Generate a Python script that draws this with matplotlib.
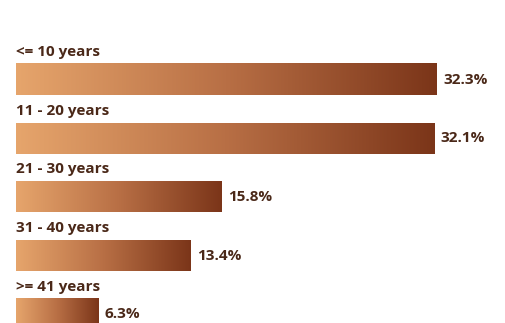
import numpy as np
import matplotlib
matplotlib.use("Agg")
import matplotlib.pyplot as plt
from matplotlib.colors import LinearSegmentedColormap

categories = ["<= 10 years", "11 - 20 years", "21 - 30 years", "31 - 40 years", ">= 41 years"]
values = [32.3, 32.1, 15.8, 13.4, 6.3]
labels = ["32.3%", "32.1%", "15.8%", "13.4%", "6.3%"]

text_color = "#4a2818"
bar_cmap = LinearSegmentedColormap.from_list("copper_fade", ["#e6a56c", "#b86f45", "#7b3519"])

W, H = 505, 323
fig = plt.figure(figsize=(W / 100, H / 100), dpi=100)
ax = fig.add_axes([16 / W, 0, 1 - 16 / W, 1])

# pixel layout: first bar centre at y=79.5, rows 58.7 px apart
row = 58.7
ax.set_xlim(0, 32.3 * (W - 16) / 421)
ax.set_ylim((H - 79.5) / row, -79.5 / row)
ax.axis("off")

bar_h = 31 / row
grad = np.linspace(0, 1, 256).reshape(1, -1)

for i, (cat, v, lab) in enumerate(zip(categories, values, labels)):
    ax.imshow(grad, cmap=bar_cmap, aspect="auto",
              extent=[0, v, i + bar_h / 2, i - bar_h / 2], interpolation="bilinear")
    ax.text(0, i - 0.40, cat, color=text_color, fontsize=11, fontweight="bold",
            family="Open Sans", va="baseline", ha="left")
    ax.text(v + 0.5, i, lab, color=text_color, fontsize=11, fontweight="bold",
            family="Open Sans", va="center", ha="left")

ax.set_xlim(0, 32.3 * (W - 16) / 421)
ax.set_ylim((H - 79.5) / row, -79.5 / row)

fig.savefig("out.png", dpi=100)
